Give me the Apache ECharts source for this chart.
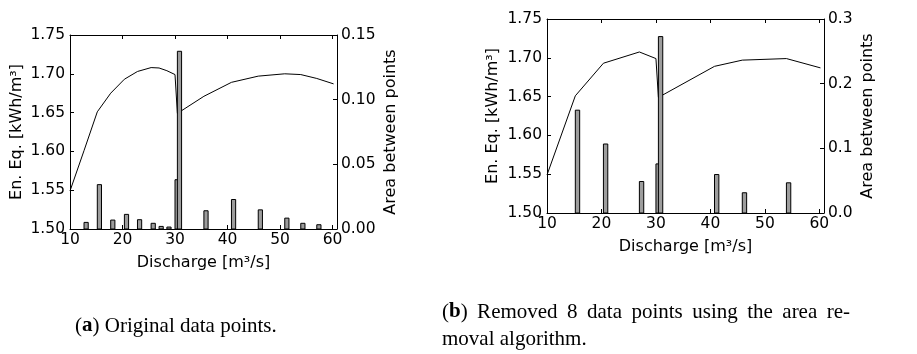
<!DOCTYPE html>
<html>
<head>
<meta charset="utf-8">
<script src="https://cdn.jsdelivr.net/npm/echarts@6/dist/echarts.min.js"></script>
<style>
  html, body { margin: 0; padding: 0; background: #fff; }
  #chart { width: 917px; height: 354px; }
</style>
</head>
<body>
<div id="chart"></div>
<script>
// ---- data ----
// (a) original data points
const origX = [10.0, 12.67, 15.2, 17.75, 20.36, 22.85, 25.45, 26.96, 28.45, 30.0, 30.45, 35.5, 40.75, 45.85, 50.9, 53.95, 57.0, 60.2];
const origY = [1.549, 1.601, 1.651, 1.675, 1.693, 1.703, 1.708, 1.7075, 1.704, 1.699, 1.649, 1.671, 1.689, 1.697, 1.700, 1.699, 1.694, 1.687];
// area between points for each interior point of (a)
const origArea = [0.0051, 0.0343, 0.0069, 0.0113, 0.0072, 0.0044, 0.0020, 0.0015, 0.0381, 0.1374, 0.0141, 0.0228, 0.0148, 0.0084, 0.0044, 0.0033];

// (b) after removing 8 points
const keptX = [10.0, 15.2, 20.36, 26.96, 30.0, 30.45, 40.75, 45.85, 53.95, 60.2];
const keptY = [1.549, 1.651, 1.693, 1.7075, 1.699, 1.649, 1.689, 1.697, 1.699, 1.687];
const keptArea = [0.159, 0.1067, 0.0487, 0.0759, 0.2728, 0.0595, 0.0313, 0.0467];

// axis ranges / labels
const xMin = 10, xMax = 60.85, xStep = 10;
const enMin = 1.50, enMax = 1.75, enStep = 0.05;
const areaMaxA = 0.15, areaStepA = 0.05;
const areaMaxB = 0.3, areaStepB = 0.1;
const xName = 'Discharge [m³/s]';
const yLeftName = 'En. Eq. [kWh/m³]';
const yRightName = 'Area between points';
const captionA = ['(', 'a', ') Original data points.'];
const captionB1 = ['(', 'b', ') Removed 8 data points using the area re-'];
const captionB2 = 'moval algorithm.';

// ---- styling ----
const FONT = 'DejaVu Sans';
const SERIF = 'Liberation Serif';
const BAR_W = 0.8; // bar width in data units (left edge at point)
const JUSTIFY_SPACE = ' \u2009'; // widened inter-word space for the justified caption line
const axisLineS = { show: true, onZero: false, lineStyle: { color: '#000', width: 1 } };
const tickS = { show: true, inside: true, length: 4, lineStyle: { color: '#000', width: 1 } };
const labelS = { color: '#000', fontSize: 15.5, fontFamily: FONT };
const nameS = { color: '#000', fontSize: 16, fontFamily: FONT };

function xAxes(grid, gap) {
  return [
    { gridIndex: grid, type: 'value', position: 'bottom', min: xMin, max: xMax, interval: xStep,
      axisLine: axisLineS, axisTick: tickS, splitLine: { show: false },
      axisLabel: Object.assign({ margin: 3, showMaxLabel: false }, labelS),
      name: xName, nameLocation: 'middle', nameGap: gap, nameTextStyle: nameS },
    { gridIndex: grid, type: 'value', position: 'top', min: xMin, max: xMax, interval: xStep,
      axisLine: axisLineS, axisTick: tickS, splitLine: { show: false },
      axisLabel: { show: false } }
  ];
}
function yAxes(grid, rMax, rStep, rDec, gapL, gapR) {
  return [
    { gridIndex: grid, type: 'value', position: 'left', min: enMin, max: enMax, interval: enStep,
      axisLine: axisLineS, axisTick: tickS, splitLine: { show: false },
      axisLabel: Object.assign({ margin: 5, formatter: v => v.toFixed(2) }, labelS),
      name: yLeftName, nameLocation: 'middle', nameGap: gapL, nameRotate: 90, nameTextStyle: nameS },
    { gridIndex: grid, type: 'value', position: 'right', min: 0, max: rMax, interval: rStep,
      axisLine: axisLineS, axisTick: tickS, splitLine: { show: false },
      axisLabel: Object.assign({ margin: 4, formatter: v => v.toFixed(rDec) }, labelS),
      name: yRightName, nameLocation: 'middle', nameGap: gapR, nameRotate: 90, nameTextStyle: nameS }
  ];
}

function barSeries(xi, yi, xs, areas) {
  return {
    type: 'custom', xAxisIndex: xi, yAxisIndex: yi, z: 3,
    data: xs.map((x, i) => [x, areas[i]]),
    renderItem: function (params, api) {
      const x = api.value(0), v = api.value(1);
      const p0 = api.coord([x, 0]);
      const p1 = api.coord([x + BAR_W, v]);
      return {
        type: 'rect',
        shape: { x: p0[0], y: p1[1], width: p1[0] - p0[0], height: p0[1] - p1[1] },
        style: { fill: '#9d9d9d', stroke: '#000', lineWidth: 1 }
      };
    }
  };
}
function lineSeries(xi, yi, xs, ys) {
  return {
    type: 'line', xAxisIndex: xi, yAxisIndex: yi, z: 2,
    data: xs.map((x, i) => [x, ys[i]]),
    showSymbol: false, symbol: 'none',
    lineStyle: { color: '#000', width: 1 }
  };
}

const capFont = '21px "' + SERIF + '"';
const capRich = { b: { fontWeight: 'bold', fontSize: 21, fontFamily: SERIF } };

const chart = echarts.init(document.getElementById('chart'), null, { renderer: 'canvas' });
chart.setOption({
  backgroundColor: '#fff',
  animation: false,
  grid: [
    { left: 70, top: 35, width: 267, height: 194, containLabel: false },
    { left: 547, top: 19, width: 277, height: 194, containLabel: false }
  ],
  xAxis: [].concat(xAxes(0, 26), xAxes(1, 26)),
  yAxis: [].concat(yAxes(0, areaMaxA, areaStepA, 2, 45, 46), yAxes(1, areaMaxB, areaStepB, 1, 46, 36)),
  series: [
    lineSeries(0, 0, origX, origY),
    barSeries(0, 1, origX.slice(1, -1), origArea),
    lineSeries(2, 2, keptX, keptY),
    barSeries(2, 3, keptX.slice(1, -1), keptArea)
  ],
  graphic: [
    { type: 'text', x: 75, y: 326,
      style: { text: captionA[0] + '{b|' + captionA[1] + '}' + captionA[2],
        font: capFont, fill: '#000', verticalAlign: 'middle', align: 'left', rich: capRich } },
    { type: 'text', x: 442, y: 312,
      style: { text: captionB1[0] + '{b|' + captionB1[1] + '}' + captionB1[2].split(' ').join(JUSTIFY_SPACE),
        font: capFont, fill: '#000', verticalAlign: 'middle', align: 'left', rich: capRich } },
    { type: 'text', x: 442, y: 339,
      style: { text: captionB2, font: capFont, fill: '#000', verticalAlign: 'middle', align: 'left' } }
  ]
});
</script>
</body>
</html>
